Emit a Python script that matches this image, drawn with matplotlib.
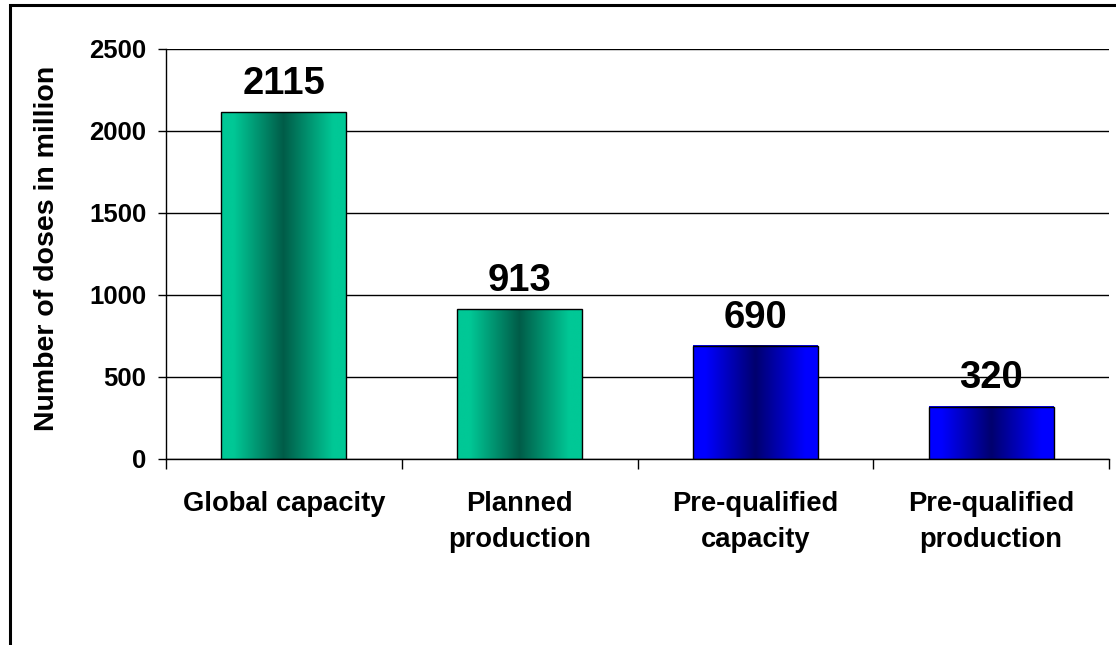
import numpy as np
import matplotlib
matplotlib.use("Agg")
import matplotlib.pyplot as plt
from matplotlib.patches import Rectangle

categories = ["Global capacity", "Planned\nproduction", "Pre-qualified\ncapacity", "Pre-qualified\nproduction"]
values = [2115, 913, 690, 320]
y_ticks = [0, 500, 1000, 1500, 2000, 2500]
y_label = "Number of doses in million"

# gradient colors (edge color, center color) per bar
edge_colors = [(0/255, 200/255, 150/255), (0/255, 200/255, 150/255), (0, 0, 1.0), (0, 0, 1.0)]
center_colors = [(0/255, 92/255, 72/255), (0/255, 92/255, 72/255), (0, 0, 110/255), (0, 0, 110/255)]

plt.rcParams['font.family'] = ['Liberation Sans', 'DejaVu Sans']
plt.rcParams['font.weight'] = 'bold'

fig = plt.figure(figsize=(11.16, 6.45), dpi=100)
ax = fig.add_axes([166/1116, 1-459/645, (1109-166)/1116, (459-49)/645])

x = np.arange(len(categories))
bar_w = 0.53
bars = ax.bar(x, values, width=bar_w, facecolor='none', edgecolor='black', linewidth=1.0, zorder=3)

# horizontal gradient inside each bar
n = 256
t = np.abs(np.linspace(-1, 1, n))
f = np.clip(t / 0.8, 0, 1)
for b, ec, cc in zip(bars, edge_colors, center_colors):
    ec = np.array(ec); cc = np.array(cc)
    img = cc[None, :] + (ec - cc)[None, :] * f[:, None]
    img = img[None, :, :]
    x0 = b.get_x(); x1 = x0 + b.get_width(); h = b.get_height()
    ax.imshow(img, extent=(x0, x1, 0, h), aspect='auto', interpolation='bilinear', zorder=2)

for b, v in zip(bars, values):
    ax.annotate(str(v), (b.get_x() + b.get_width()/2, b.get_height()),
                xytext=(0, 13), textcoords='offset points', ha='center', va='baseline',
                fontsize=27.5, fontweight='bold', zorder=4)

ax.set_xlim(-0.5, len(categories) - 0.5)
ax.set_ylim(0, 2500)
ax.set_yticks(y_ticks)
ax.set_yticklabels([str(v) for v in y_ticks], fontsize=18.5, fontweight='bold')
ax.yaxis.grid(True, color='black', linewidth=1.0, zorder=1)
ax.set_axisbelow(True)

ax.set_xticks(x)
ax.set_xticklabels(categories, fontsize=19.7, fontweight='bold', linespacing=1.5, va='top')
ax.set_xticks(np.arange(len(categories) + 1) - 0.5, minor=True)
ax.tick_params(axis='x', which='major', length=0, pad=23)
ax.tick_params(axis='x', which='minor', length=7.5, width=1.0, direction='out', color='black')
ax.tick_params(axis='y', length=6, width=1.0, pad=8, color='black')

for s in ['top', 'right']:
    ax.spines[s].set_visible(False)
for s in ['left', 'bottom']:
    ax.spines[s].set_linewidth(1.0)
    ax.spines[s].set_color('black')

fig.text(47/1116, 1-248/645, y_label, rotation=90, ha='center', va='center',
         fontsize=20.5, fontweight='bold')

# outer frame (only left and top edges visible)
fig.add_artist(Rectangle((9.5/1116, -0.2), 1.5, 0.2 + 1 - 5/645, transform=fig.transFigure,
                         fill=False, edgecolor='black', linewidth=2.2, clip_on=False))

fig.savefig("out.png", dpi=100)
